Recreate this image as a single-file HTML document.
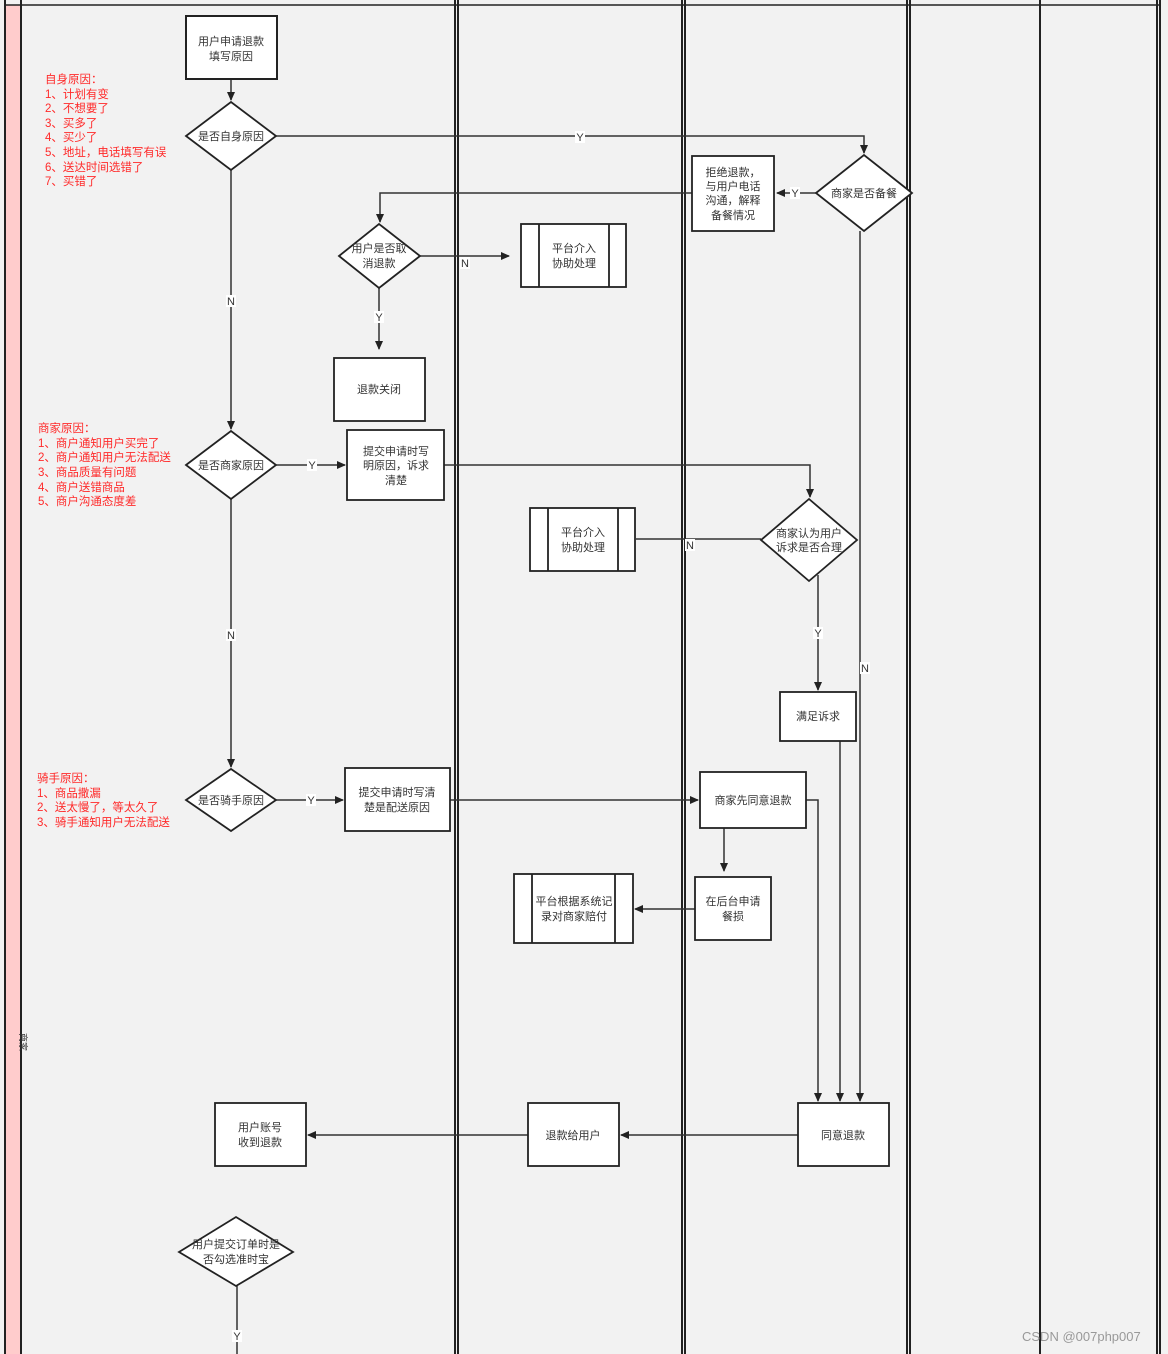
<!DOCTYPE html>
<html><head><meta charset="utf-8"><style>
body{margin:0;background:#fff}
svg{display:block}
text{font-family:"Liberation Sans","Noto Sans CJK SC",sans-serif;font-size:11px;fill:#333}
.r{fill:#ff2a2a;font-size:11.5px}
.lb{fill:#333;font-size:11px}
</style></head><body>
<svg width="1168" height="1354" viewBox="0 0 1168 1354" xmlns="http://www.w3.org/2000/svg">
<defs><marker id="a" markerWidth="10" markerHeight="10" refX="8" refY="5" orient="auto" markerUnits="userSpaceOnUse"><path d="M0,1 L9,5 L0,9 Z" fill="#222"/></marker></defs>
<rect x="0" y="0" width="1168" height="1354" fill="#f2f2f2"/>
<rect x="5" y="5" width="16" height="1349" fill="#ffcccc"/>
<g stroke="#222" stroke-width="2">
<line x1="4" y1="5" x2="1160" y2="5" stroke-width="1.5"/>
<line x1="5" y1="0" x2="5" y2="1354"/><line x1="21" y1="0" x2="21" y2="1354"/>
<line x1="455" y1="0" x2="455" y2="1354"/><line x1="458" y1="0" x2="458" y2="1354"/>
<line x1="682" y1="0" x2="682" y2="1354"/><line x1="685" y1="0" x2="685" y2="1354"/>
<line x1="907" y1="0" x2="907" y2="1354"/><line x1="910" y1="0" x2="910" y2="1354"/>
<line x1="1040" y1="0" x2="1040" y2="1354"/>
<line x1="1157" y1="0" x2="1157" y2="1354"/><line x1="1160" y1="0" x2="1160" y2="1354"/>
</g>
<text x="9" y="1030" style="font-size:9px" transform="rotate(90 13 1037)">商家</text>
<g fill="none" stroke="#333" stroke-width="1.5">
<path d="M231,79 V100" marker-end="url(#a)"/>
<path d="M276,136 H864 V153" marker-end="url(#a)"/>
<path d="M816,193 H777" marker-end="url(#a)"/>
<path d="M692,193 H380 V222" marker-end="url(#a)"/>
<path d="M420,256 H509" marker-end="url(#a)"/>
<path d="M379,288 V349" marker-end="url(#a)"/>
<path d="M231,170 V429" marker-end="url(#a)"/>
<path d="M276,465 H345" marker-end="url(#a)"/>
<path d="M444,465 H810 V497" marker-end="url(#a)"/>
<path d="M761,539 H636"/>
<path d="M818,575 V690" marker-end="url(#a)"/>
<path d="M860,231 V1101" marker-end="url(#a)"/>
<path d="M840,741 V1101" marker-end="url(#a)"/>
<path d="M231,499 V767" marker-end="url(#a)"/>
<path d="M276,800 H343" marker-end="url(#a)"/>
<path d="M450,800 H698" marker-end="url(#a)"/>
<path d="M806,800 H818 V1101" marker-end="url(#a)"/>
<path d="M724,828 V871" marker-end="url(#a)"/>
<path d="M695,909 H635" marker-end="url(#a)"/>
<path d="M798,1135 H621" marker-end="url(#a)"/>
<path d="M528,1135 H308" marker-end="url(#a)"/>
<path d="M237,1286 V1354"/>
</g>
<g fill="#fff" stroke="#222" stroke-width="1.8">
<rect x="186" y="16" width="91" height="63" stroke-width="2"/>
<polygon points="186,136 231,102 276,136 231,170"/>
<polygon points="816,193 864,155 912,193 864,231"/>
<rect x="692" y="156" width="82" height="75"/>
<polygon points="339,256 379,224 420,256 379,288"/>
<rect x="521" y="224" width="105" height="63"/>
<rect x="334" y="358" width="91" height="63"/>
<polygon points="186,465 231,431 276,465 231,499"/>
<rect x="347" y="430" width="97" height="70"/>
<polygon points="761,540 809,499 857,540 809,581"/>
<rect x="530" y="508" width="105" height="63"/>
<rect x="780" y="692" width="76" height="49"/>
<polygon points="186,800 231,769 276,800 231,831"/>
<rect x="345" y="768" width="105" height="63"/>
<rect x="700" y="772" width="106" height="56"/>
<rect x="695" y="877" width="76" height="63"/>
<rect x="514" y="874" width="119" height="69"/>
<rect x="798" y="1103" width="91" height="63"/>
<rect x="528" y="1103" width="91" height="63"/>
<rect x="215" y="1103" width="91" height="63"/>
<polygon points="179,1252 236,1217 293,1252 236,1286"/>
</g>
<g stroke="#222" stroke-width="1.8">
<line x1="539" y1="224" x2="539" y2="287"/><line x1="609" y1="224" x2="609" y2="287"/>
<line x1="548" y1="508" x2="548" y2="571"/><line x1="618" y1="508" x2="618" y2="571"/>
<line x1="532" y1="874" x2="532" y2="943"/><line x1="615" y1="874" x2="615" y2="943"/>
</g>
<g text-anchor="middle">
<text x="231" y="45">用户申请退款</text><text x="231" y="60">填写原因</text>
<text x="231" y="140">是否自身原因</text>
<text x="864" y="197">商家是否备餐</text>
<text x="733" y="176">拒绝退款，</text><text x="733" y="190">与用户电话</text><text x="733" y="204">沟通，解释</text><text x="733" y="219">备餐情况</text>
<text x="379" y="252">用户是否取</text><text x="379" y="267">消退款</text>
<text x="574" y="252">平台介入</text><text x="574" y="267">协助处理</text>
<text x="379" y="393">退款关闭</text>
<text x="231" y="469">是否商家原因</text>
<text x="396" y="455">提交申请时写</text><text x="396" y="469">明原因，诉求</text><text x="396" y="484">清楚</text>
<text x="809" y="537">商家认为用户</text><text x="809" y="551">诉求是否合理</text>
<text x="583" y="536">平台介入</text><text x="583" y="551">协助处理</text>
<text x="818" y="720">满足诉求</text>
<text x="231" y="804">是否骑手原因</text>
<text x="397" y="796">提交申请时写清</text><text x="397" y="811">楚是配送原因</text>
<text x="753" y="804">商家先同意退款</text>
<text x="733" y="905">在后台申请</text><text x="733" y="920">餐损</text>
<text x="574" y="905">平台根据系统记</text><text x="574" y="920">录对商家赔付</text>
<text x="843" y="1139">同意退款</text>
<text x="573" y="1139">退款给用户</text>
<text x="260" y="1131">用户账号</text><text x="260" y="1146">收到退款</text>
<text x="236" y="1248">用户提交订单时是</text><text x="236" y="1263">否勾选准时宝</text>
</g>
<g text-anchor="middle">
<rect x="575" y="131" width="10" height="12" fill="#fff"/><text x="580" y="141" class="lb">Y</text>
<rect x="790" y="187" width="10" height="12" fill="#fff"/><text x="795" y="197" class="lb">Y</text>
<rect x="460" y="257" width="10" height="12" fill="#fff"/><text x="465" y="267" class="lb">N</text>
<rect x="374" y="311" width="10" height="12" fill="#fff"/><text x="379" y="321" class="lb">Y</text>
<rect x="226" y="295" width="10" height="12" fill="#fff"/><text x="231" y="305" class="lb">N</text>
<rect x="307" y="459" width="10" height="12" fill="#fff"/><text x="312" y="469" class="lb">Y</text>
<rect x="685" y="539" width="10" height="12" fill="#fff"/><text x="690" y="549" class="lb">N</text>
<rect x="813" y="627" width="10" height="12" fill="#fff"/><text x="818" y="637" class="lb">Y</text>
<rect x="860" y="662" width="10" height="12" fill="#fff"/><text x="865" y="672" class="lb">N</text>
<rect x="226" y="629" width="10" height="12" fill="#fff"/><text x="231" y="639" class="lb">N</text>
<rect x="306" y="794" width="10" height="12" fill="#fff"/><text x="311" y="804" class="lb">Y</text>
<rect x="232" y="1330" width="10" height="12" fill="#fff"/><text x="237" y="1340" class="lb">Y</text>
</g>
<g class="r">
<text class="r" x="45" y="83">自身原因：</text>
<text class="r" x="45" y="98">1、计划有变</text>
<text class="r" x="45" y="112">2、不想要了</text>
<text class="r" x="45" y="127">3、买多了</text>
<text class="r" x="45" y="141">4、买少了</text>
<text class="r" x="45" y="156">5、地址，电话填写有误</text>
<text class="r" x="45" y="171">6、送达时间选错了</text>
<text class="r" x="45" y="185">7、买错了</text>
<text class="r" x="38" y="432">商家原因：</text>
<text class="r" x="38" y="447">1、商户通知用户买完了</text>
<text class="r" x="38" y="461">2、商户通知用户无法配送</text>
<text class="r" x="38" y="476">3、商品质量有问题</text>
<text class="r" x="38" y="491">4、商户送错商品</text>
<text class="r" x="38" y="505">5、商户沟通态度差</text>
<text class="r" x="37" y="782">骑手原因：</text>
<text class="r" x="37" y="797">1、商品撒漏</text>
<text class="r" x="37" y="811">2、送太慢了，等太久了</text>
<text class="r" x="37" y="826">3、骑手通知用户无法配送</text>
</g>
<text x="1022" y="1341" style="font-size:13px;fill:#999">CSDN @007php007</text>
</svg>
</body></html>
